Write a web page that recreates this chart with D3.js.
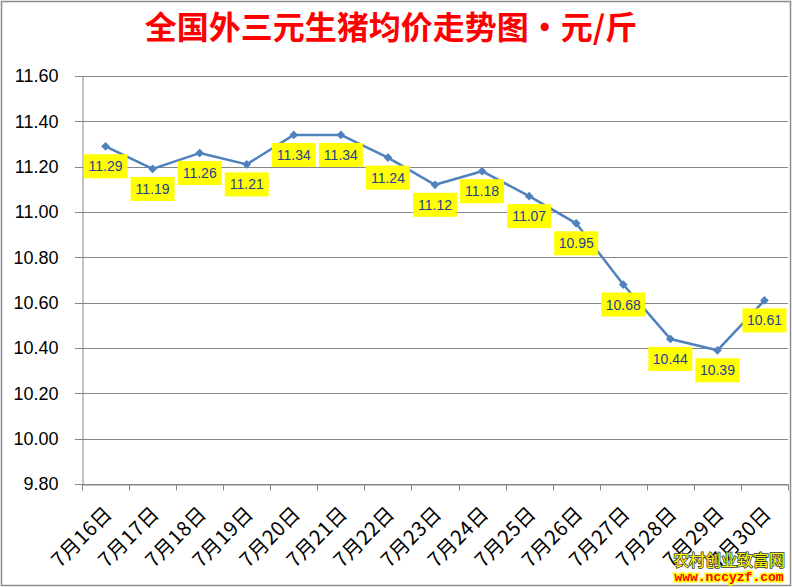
<!DOCTYPE html>
<html><head><meta charset="utf-8">
<script src="https://cdn.jsdelivr.net/npm/d3@7/dist/d3.min.js"></script>
<style>body{margin:0;background:#fff}svg{display:block}</style>
</head><body>
<svg id="c" width="792" height="587"></svg>
<script>
const categories = ["7月16日","7月17日","7月18日","7月19日","7月20日","7月21日","7月22日","7月23日","7月24日","7月25日","7月26日","7月27日","7月28日","7月29日","7月30日"];
const prices = [11.29,11.19,11.26,11.21,11.34,11.34,11.24,11.12,11.18,11.07,10.95,10.68,10.44,10.39,10.61];
const yTicks = [9.8,10.0,10.2,10.4,10.6,10.8,11.0,11.2,11.4,11.6];
const title = "全国外三元生猪均价走势图·元/斤";

const svg = d3.select("#c");
const W = 792, H = 587;
const m = {left:82, right:4, top:76, bottom:103};

svg.append("rect").attr("x",1.5).attr("y",1.5).attr("width",W-3).attr("height",H-3)
  .attr("fill","#fff").attr("stroke","#8c8c8c").attr("stroke-width",1.5);

const x = d3.scaleBand().domain(categories).range([m.left, W-m.right]);
const y = d3.scaleLinear().domain([9.8,11.6]).range([H-m.bottom, m.top]);

// gridlines
svg.append("g").selectAll("line").data(yTicks).join("line")
  .attr("x1",m.left-7).attr("x2",W-m.right)
  .attr("y1",d=>Math.round(y(d))+0.5).attr("y2",d=>Math.round(y(d))+0.5)
  .attr("stroke","#868686").attr("stroke-width",1);

// y axis
const yAxis = d3.axisLeft(y).tickValues(yTicks).tickFormat(d3.format(".2f")).tickSize(0).tickPadding(24);
const gy = svg.append("g").attr("transform",`translate(${m.left+0.5},0)`).call(yAxis);
gy.select(".domain").attr("stroke","#868686");
gy.selectAll("text").attr("font-family","'Liberation Sans', Arial, sans-serif").attr("font-size",18).attr("fill","#000");

// x axis
const xAxis = d3.axisBottom(x).tickSizeOuter(0).tickSize(0).tickFormat("");
const gx = svg.append("g").attr("transform",`translate(0,${Math.round(y(9.8))+0.5})`).call(xAxis);
gx.select(".domain").attr("stroke","#868686");
const tickPos = categories.map(c=>x(c)).concat([W-m.right]);
gx.append("g").selectAll("line").data(tickPos).join("line")
  .attr("x1",d=>Math.round(d)+0.5).attr("x2",d=>Math.round(d)+0.5).attr("y1",0).attr("y2",6)
  .attr("stroke","#868686");
svg.append("g").selectAll("text").data(categories).join("text")
  .attr("transform",d=>`translate(${x(d)+x.bandwidth()/2+8},${y(9.8)+31}) rotate(-45)`)
  .attr("text-anchor","end")
  .attr("font-family","'Noto Sans CJK SC', sans-serif").attr("font-size",20).attr("letter-spacing",0.5).attr("fill","#000")
  .text(d=>d);

// line
const cx = (d,i)=>x(categories[i])+x.bandwidth()/2;
const line = d3.line().x((d,i)=>cx(d,i)).y(d=>y(d));
svg.append("path").datum(prices).attr("d",line).attr("fill","none")
  .attr("stroke","#4F81BD").attr("stroke-width",2.5).attr("stroke-linejoin","round");
svg.append("g").selectAll("path").data(prices).join("path")
  .attr("d",d3.symbol(d3.symbolSquare,38))
  .attr("transform",(d,i)=>`translate(${cx(d,i)},${y(d)}) rotate(45)`)
  .attr("fill","#4F81BD");

// data labels
const lg = svg.append("g").selectAll("g").data(prices).join("g")
  .attr("transform",(d,i)=>`translate(${cx(d,i)},${y(d)+8})`);
lg.append("rect").attr("x",-22).attr("y",0).attr("width",44).attr("height",24).attr("fill","#FFFF00");
lg.append("text").attr("x",0).attr("y",17).attr("text-anchor","middle")
  .attr("font-family","'Liberation Sans', Arial, sans-serif").attr("font-size",14).attr("fill","#1F3F8F")
  .text(d=>d.toFixed(2));

// title
svg.append("text").attr("x",391).attr("y",39).attr("text-anchor","middle")
  .attr("font-family","'Noto Sans CJK SC', sans-serif").attr("font-weight","bold")
  .attr("font-size",32).attr("fill","#FF0000").text(title);

// watermark
svg.append("text").attr("x",729).attr("y",566).attr("text-anchor","middle")
  .attr("font-family","'Noto Sans CJK SC', sans-serif").attr("font-size",16)
  .attr("fill","#FFFF00").attr("stroke","#333").attr("stroke-width",1.5).attr("paint-order","stroke")
  .text("农村创业致富网");
svg.append("text").attr("x",729).attr("y",581).attr("text-anchor","middle")
  .attr("font-family","'Liberation Mono', monospace").attr("font-weight","bold").attr("font-size",13)
  .attr("fill","#FF0000").attr("stroke","#FFFF00").attr("stroke-width",3).attr("paint-order","stroke")
  .text("www.nccyzf.com");
</script>
</body></html>
